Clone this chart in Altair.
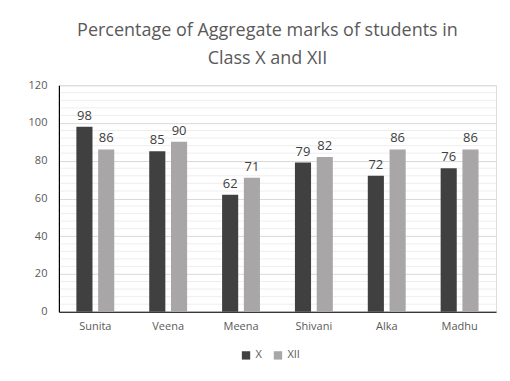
import altair as alt
import pandas as pd

students = ["Sunita", "Veena", "Meena", "Shivani", "Alka", "Madhu"]
class_x = [98, 85, 62, 79, 72, 76]
class_xii = [86, 90, 71, 82, 86, 86]
series = ["X", "XII"]
colors = ["#404040", "#A8A6A6"]
major_ticks = [0, 20, 40, 60, 80, 100, 120]
minor_ticks = [v for v in range(0, 121, 4) if v % 20 != 0]

rows = []
for s, a, b in zip(students, class_x, class_xii):
    rows.append({"Student": s, "Class": "X", "Value": a})
    rows.append({"Student": s, "Class": "XII", "Value": b})
df = pd.DataFrame(rows)
grid_df = pd.DataFrame({"Value": minor_ticks})

FONT = "Open Sans"
W, H = 438, 227
yscale = alt.Scale(domain=[0, 120], nice=False)

def y_axis():
    return alt.Axis(title=None, values=major_ticks, ticks=False,
                    labelColor="#595959", labelFontSize=11, labelFont=FONT,
                    labelPadding=12, domainColor="#000000", domainWidth=1.2,
                    gridColor="#D9D9D9", gridWidth=1)

x_enc = alt.X("Student:N", sort=students,
              scale=alt.Scale(paddingInner=0.48, paddingOuter=0.24),
              axis=alt.Axis(title=None, labelAngle=0, labelColor="#595959",
                            labelFontSize=11, labelFont=FONT, ticks=False,
                            domainColor="#000000", domainWidth=1.2,
                            labelPadding=9))
xo = alt.XOffset("Class:N", sort=series, scale=alt.Scale(paddingInner=0.26))

minor = alt.Chart(grid_df).mark_rule(color="#EEEEEE", strokeWidth=1).encode(
    x=alt.value(1), x2=alt.value(W),
    y=alt.Y("Value:Q", scale=yscale, axis=y_axis()),
)

base = alt.Chart(df).encode(x=x_enc, xOffset=xo)

bars = base.mark_bar().encode(
    y=alt.Y("Value:Q", scale=yscale, axis=y_axis()),
    color=alt.Color("Class:N", sort=series,
                    scale=alt.Scale(domain=series, range=colors),
                    legend=alt.Legend(title=None, orient="none", direction="horizontal",
                                      legendX=182, legendY=265,
                                      symbolType="square", symbolSize=70,
                                      labelFontSize=11, labelFont=FONT,
                                      labelColor="#595959", columnPadding=10,
                                      symbolStrokeWidth=0)),
)

labels = base.mark_text(dy=-11, fontSize=13, font=FONT, color="#404040").encode(
    y=alt.Y("Value:Q", scale=yscale, axis=y_axis()), text="Value:Q"
)

chart = alt.layer(minor, bars, labels).properties(
    width=W, height=H,
    title=alt.TitleParams(["Percentage of Aggregate marks of students in", "Class X and XII"],
                          fontSize=18, font=FONT, fontWeight="normal", color="#595959",
                          anchor="middle", offset=11, lineHeight=28, dx=-10),
    padding={"left": 20, "top": 14, "right": 5, "bottom": 5},
).configure_view(stroke=None).configure(background="white")

chart.save("out.html", embed_options={"renderer": "svg", "actions": False})
